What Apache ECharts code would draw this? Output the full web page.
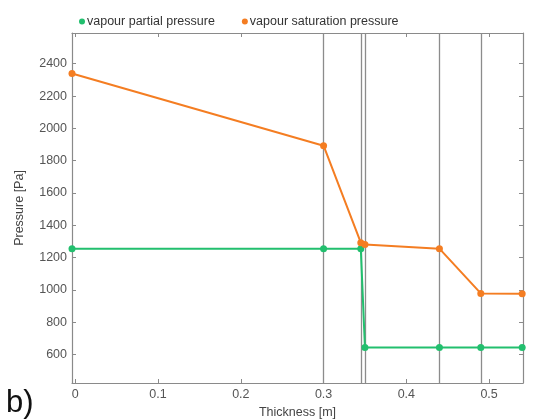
<!DOCTYPE html>
<html>
<head>
<meta charset="utf-8">
<script src="https://cdn.jsdelivr.net/npm/echarts@6/dist/echarts.min.js"></script>
<style>
  html, body { margin: 0; padding: 0; background: #fff; }
  #chart { width: 534px; height: 420px; }
</style>
</head>
<body>
<div id="chart"></div>
<script>
// Layer interfaces through the wall [m]
const thickness = [-0.004, 0.3, 0.345, 0.35, 0.44, 0.49, 0.54];
// Pressures at each interface [Pa]
const partialPressure = [1255, 1255, 1255, 645, 645, 645, 645];
const saturationPressure = [2340, 1893, 1293, 1282, 1256, 979, 977];
// Layer boundaries drawn as vertical lines
const boundaries = [0.3, 0.345, 0.35, 0.44, 0.49];
// Tick positions
const xTicks = [0, 0.1, 0.2, 0.3, 0.4, 0.5];
const yTicks = [600, 800, 1000, 1200, 1400, 1600, 1800, 2000, 2200, 2400];

const seriesNames = ['vapour partial pressure', 'vapour saturation pressure'];
const GREEN = '#22bf6e';
const ORANGE = '#f47d22';
const FONT = '"Liberation Sans Narrow", "Liberation Sans", Arial, sans-serif';

const pairs = (xs, ys) => xs.map((x, i) => [x, ys[i]]);

const xRange = { min: -0.004, max: 0.541 };
const yRange = { min: 425, max: 2590 };

const frameLine = { show: true, onZero: false, lineStyle: { color: '#8a8a8a', width: 1.2 } };
const innerTick = { show: true, inside: true, length: 4, lineStyle: { color: '#8a8a8a', width: 1 } };

const chart = echarts.init(document.getElementById('chart'), null, { renderer: 'canvas' });
chart.setOption({
  animation: false,
  backgroundColor: '#ffffff',
  textStyle: { fontFamily: FONT },
  legend: {
    data: seriesNames,
    left: 74,
    top: 10,
    icon: 'circle',
    itemWidth: 6,
    itemHeight: 6,
    itemGap: 27,
    textStyle: { fontFamily: FONT, fontSize: 12.5, color: '#333', padding: [0, 0, 0, -3] }
  },
  grid: { left: 72, right: 11, top: 33, bottom: 37, containLabel: false, outerBoundsMode: 'none' },
  graphic: [{
    type: 'text', left: 6, top: 388,
    style: { text: 'b)', font: '31px "Liberation Sans", Arial, sans-serif', fill: '#111' }
  }],
  xAxis: [{
    type: 'value', ...xRange,
    name: 'Thickness [m]', nameLocation: 'middle', nameGap: 21,
    nameTextStyle: { fontFamily: FONT, fontSize: 12.5, color: '#444' },
    axisLine: frameLine,
    axisTick: { ...innerTick, customValues: xTicks },
    axisLabel: { customValues: xTicks, fontFamily: FONT, fontSize: 12.5, color: '#555', margin: 5,
                 formatter: v => String(v) },
    splitLine: { show: false }
  }, {
    type: 'value', ...xRange, position: 'top',
    axisLine: frameLine,
    axisTick: { ...innerTick, customValues: xTicks },
    axisLabel: { show: false },
    splitLine: { show: false }
  }],
  yAxis: [{
    type: 'value', ...yRange,
    name: 'Pressure [Pa]', nameLocation: 'middle', nameGap: 46,
    nameTextStyle: { fontFamily: FONT, fontSize: 12.5, color: '#444' },
    axisLine: frameLine,
    axisTick: { ...innerTick, customValues: yTicks },
    axisLabel: { customValues: yTicks, fontFamily: FONT, fontSize: 12.5, color: '#555', margin: 5,
                 formatter: v => String(v) },
    splitLine: { show: false }
  }, {
    type: 'value', ...yRange, position: 'right',
    axisLine: frameLine,
    axisTick: { ...innerTick, customValues: yTicks },
    axisLabel: { show: false },
    splitLine: { show: false }
  }],
  series: [{
    // full-height boundary lines between wall layers
    type: 'lines',
    coordinateSystem: 'cartesian2d',
    silent: true,
    z: 1,
    lineStyle: { color: '#8c8c8c', width: 1.3, opacity: 1 },
    data: boundaries.map(v => ({ coords: [[v, yRange.min], [v, yRange.max]] }))
  }, {
    name: seriesNames[0],
    type: 'line',
    data: pairs(thickness, partialPressure),
    color: GREEN,
    symbol: 'circle', symbolSize: 7,
    lineStyle: { width: 2, color: GREEN },
    itemStyle: { color: GREEN },
    z: 3
  }, {
    name: seriesNames[1],
    type: 'line',
    data: pairs(thickness, saturationPressure),
    color: ORANGE,
    symbol: 'circle', symbolSize: 7,
    lineStyle: { width: 2, color: ORANGE },
    itemStyle: { color: ORANGE },
    z: 4
  }]
});
</script>
</body>
</html>
